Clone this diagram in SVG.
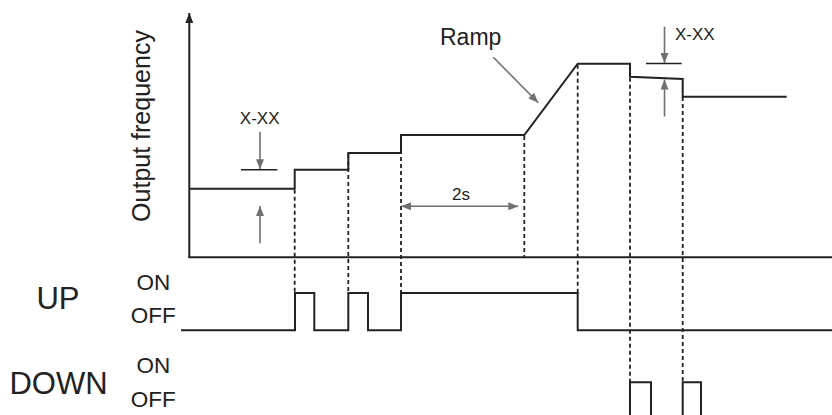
<svg xmlns="http://www.w3.org/2000/svg" width="832" height="415" viewBox="0 0 832 415">
<style>
.sig{fill:none;stroke:#222;stroke-width:2;stroke-linejoin:miter}
.axis{fill:none;stroke:#222;stroke-width:2}
.dash{fill:none;stroke:#222;stroke-width:1.8;stroke-dasharray:4,3}
.ann{fill:none;stroke:#707070;stroke-width:1.6}
.bar{fill:none;stroke:#222;stroke-width:1.6}
text{font-family:"Liberation Sans",Arial,Helvetica,sans-serif;fill:#222}
</style>
<defs>
<marker id="ah" markerUnits="userSpaceOnUse" markerWidth="10" markerHeight="8" viewBox="0 0 10 8" refX="10" refY="4" orient="auto">
<path d="M0,0 L10,4 L0,8 Z" fill="#707070"/>
</marker>
<marker id="ahs" markerUnits="userSpaceOnUse" markerWidth="10" markerHeight="8" viewBox="0 0 10 8" refX="0" refY="4" orient="auto">
<path d="M10,0 L0,4 L10,8 Z" fill="#707070"/>
</marker>
<marker id="axh" markerUnits="userSpaceOnUse" markerWidth="10" markerHeight="8" viewBox="0 0 10 8" refX="10" refY="4" orient="auto">
<path d="M0,0 L10,4 L0,8 Z" fill="#222"/>
</marker>
</defs>

<g id="axes">
<line class="axis" x1="189.3" y1="257.3" x2="189.3" y2="13" marker-end="url(#axh)"/>
<line class="axis" x1="188.3" y1="257.3" x2="832" y2="257.3"/>
</g>

<g id="labels">
<text transform="translate(149.5,126) rotate(-90)" font-size="25" text-anchor="middle">Output frequency</text>
<text x="58" y="309" font-size="31" text-anchor="middle">UP</text>
<text x="58.5" y="394" font-size="31" text-anchor="middle">DOWN</text>
<text x="153.3" y="290" font-size="22.5" text-anchor="middle">ON</text>
<text x="153.3" y="323.3" font-size="22.5" text-anchor="middle">OFF</text>
<text x="153.3" y="373.3" font-size="22.5" text-anchor="middle">ON</text>
<text x="153.3" y="406.7" font-size="22.5" text-anchor="middle">OFF</text>
</g>

<g id="frequency">
<path class="sig" d="M189.3,188.7 H294.7 V169.7 H348.3 V153 H401 V135 H524.3 L577.7,63.7 H630 V76.7 L682.7,79 V96.7 H786.7"/>
</g>

<g id="up-signal">
<path class="sig" d="M181,330.3 H295 V293 H314.3 V330.3 H348.3 V293 H368 V330.3 H401 V293 H577.7 V330.3 H832"/>
</g>

<g id="down-signal">
<path class="sig" d="M630,415 V382.3 H651 V415"/>
<path class="sig" d="M682.7,415 V382.3 H701 V415"/>
</g>

<g id="connectors">
<line class="dash" x1="294.7" y1="189.7" x2="294.7" y2="293"/>
<line class="dash" x1="348.3" y1="154" x2="348.3" y2="293"/>
<line class="dash" x1="401" y1="136" x2="401" y2="293"/>
<line class="dash" x1="524.3" y1="136" x2="524.3" y2="257"/>
<line class="dash" x1="577.7" y1="64.7" x2="577.7" y2="293"/>
<line class="dash" x1="630" y1="77.7" x2="630" y2="382.3"/>
<line class="dash" x1="682.7" y1="97" x2="682.7" y2="382.3"/>
</g>

<g id="annotations">
<text x="259.7" y="124" font-size="17" text-anchor="middle">X-XX</text>
<line class="ann" x1="260" y1="131.7" x2="260" y2="169.2" marker-end="url(#ah)"/>
<line class="bar" x1="241" y1="169.7" x2="277.3" y2="169.7"/>
<line class="ann" x1="260" y1="243.3" x2="260" y2="206" marker-end="url(#ah)"/>

<text x="461" y="200" font-size="17" text-anchor="middle">2s</text>
<line class="ann" x1="401" y1="206.3" x2="518.3" y2="206.3" marker-start="url(#ahs)" marker-end="url(#ah)"/>

<text x="440" y="45" font-size="23">Ramp</text>
<line class="ann" x1="493.3" y1="57.3" x2="538.3" y2="102.7" marker-end="url(#ah)"/>

<text x="675" y="40" font-size="17">X-XX</text>
<line class="ann" x1="664.5" y1="26.7" x2="664.5" y2="63" marker-end="url(#ah)"/>
<line class="bar" x1="646" y1="63.5" x2="681.7" y2="63.5"/>
<line class="ann" x1="664.5" y1="116.5" x2="664.5" y2="79.5" marker-end="url(#ah)"/>
</g>
</svg>
